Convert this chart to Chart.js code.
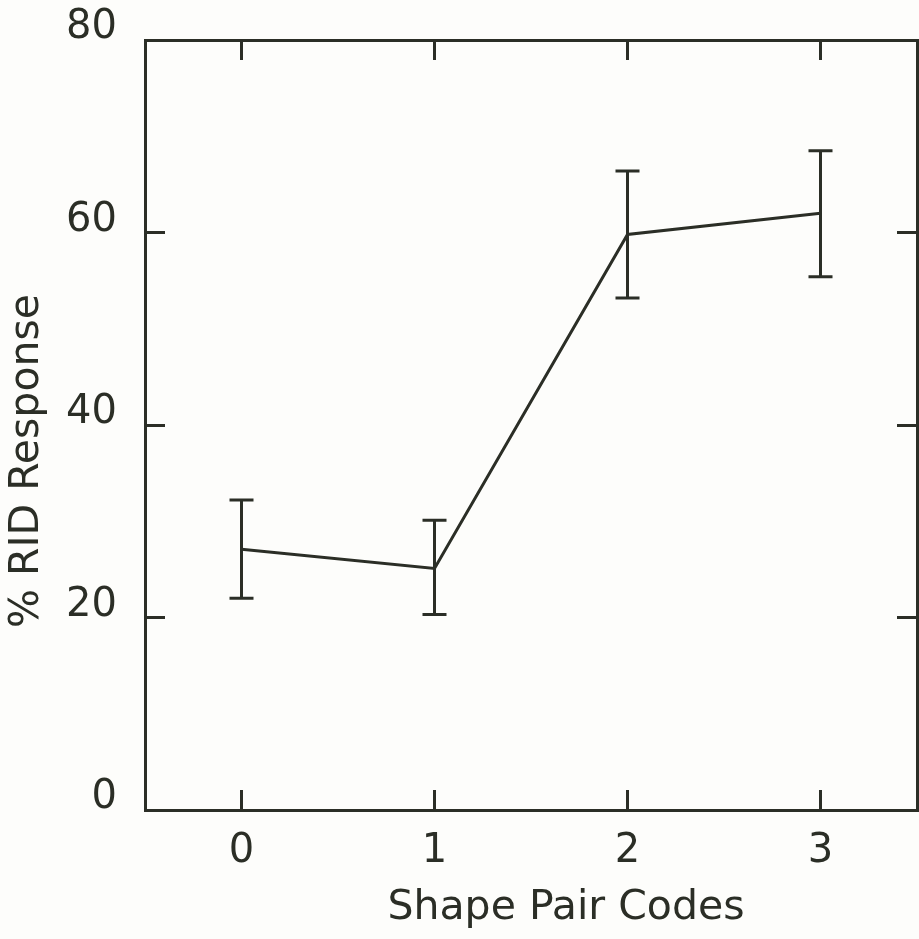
<!DOCTYPE html>
<html>
<head>
<meta charset="utf-8">
<script src="https://cdn.jsdelivr.net/npm/chart.js@4.4.1/dist/chart.umd.min.js"></script>
<style>
  html, body { margin: 0; padding: 0; background: #fdfdfb; }
  #wrap { width: 919px; height: 939px; }
</style>
</head>
<body>
<div id="wrap"><canvas id="chart"></canvas></div>
<script>
// ── DATA ──
const codes   = ['0', '1', '2', '3'];
const ridMean = [27.1, 25.1, 59.8, 62.0];
const ridHigh = [32.2, 30.1, 66.4, 68.5];
const ridLow  = [22.0, 20.3, 53.2, 55.4];
const yTicks  = [0, 20, 40, 60, 80];

const xTitle = 'Shape Pair Codes';
const yTitle = '% RID Response';

const INK  = '#2b2e26';
const FONT = '"DejaVu Sans", sans-serif';

// ── ERROR BARS + AXIS TITLES ──
const errorBars = {
    id: 'errorBars',
    afterDatasetsDraw(chart) {
        const { ctx, scales: { x, y } } = chart;
        ctx.save();
        ctx.strokeStyle = INK;
        ctx.lineWidth = 3;
        codes.forEach((c, i) => {
            const px  = x.getPixelForValue(i);
            const top = y.getPixelForValue(ridHigh[i]);
            const bot = y.getPixelForValue(ridLow[i]);
            ctx.beginPath();
            ctx.moveTo(px, top); ctx.lineTo(px, bot);
            ctx.moveTo(px - 12, top); ctx.lineTo(px + 12, top);
            ctx.moveTo(px - 12, bot); ctx.lineTo(px + 12, bot);
            ctx.stroke();
        });
        ctx.restore();
    },
    afterDraw(chart) {
        const { ctx, chartArea: a } = chart;
        ctx.save();
        ctx.fillStyle = INK;
        ctx.font = '41px ' + FONT;
        ctx.textAlign = 'center';
        ctx.textBaseline = 'middle';
        ctx.fillText(xTitle, a.left + 421, a.bottom + 98);
        ctx.translate(a.left - 118, a.top + 421);
        ctx.rotate(-Math.PI / 2);
        ctx.fillText(yTitle, 0, 0);
        ctx.restore();
    }
};

const tickGrid = { drawOnChartArea: false, tickLength: -20, tickWidth: 3, tickColor: INK };
const border   = { display: true, color: INK, width: 3 };
const noPad = s => { s.paddingTop = 0; s.paddingBottom = 0; s.paddingLeft = 0; s.paddingRight = 0; };

new Chart(document.getElementById('chart'), {
    type: 'line',
    data: {
        labels: codes,
        datasets: [{
            data: ridMean,
            borderColor: INK,
            borderWidth: 3,
            pointRadius: 0,
            tension: 0,
            fill: false
        }]
    },
    plugins: [errorBars],
    options: {
        responsive: true,
        maintainAspectRatio: false,
        animation: false,
        layout: { padding: 0 },
        plugins: { legend: { display: false }, tooltip: { enabled: false } },
        scales: {
            x: {
                type: 'category',
                position: 'bottom',
                offset: true,
                grid: { ...tickGrid, offset: false },
                border,
                ticks: { color: INK, font: { family: FONT, size: 40 }, padding: 38 },
                afterFit: s => { noPad(s); s.height = 129; }
            },
            x2: {
                type: 'category',
                position: 'top',
                offset: true,
                grid: { ...tickGrid, offset: false },
                border,
                ticks: { display: false },
                afterFit: s => { noPad(s); s.height = 40; }
            },
            y: {
                type: 'linear',
                position: 'left',
                min: 0, max: 80,
                afterBuildTicks: s => { s.ticks = yTicks.map(v => ({ value: v })); },
                grid: tickGrid,
                border,
                ticks: { color: INK, font: { family: FONT, size: 40 }, padding: 48, labelOffset: -12 },
                afterFit: s => { noPad(s); s.width = 145; }
            },
            y2: {
                type: 'linear',
                position: 'right',
                min: 0, max: 80,
                afterBuildTicks: s => { s.ticks = yTicks.map(v => ({ value: v })); },
                grid: tickGrid,
                border,
                ticks: { display: false },
                afterFit: s => { noPad(s); s.width = 2; }
            }
        }
    }
});
</script>
</body>
</html>
